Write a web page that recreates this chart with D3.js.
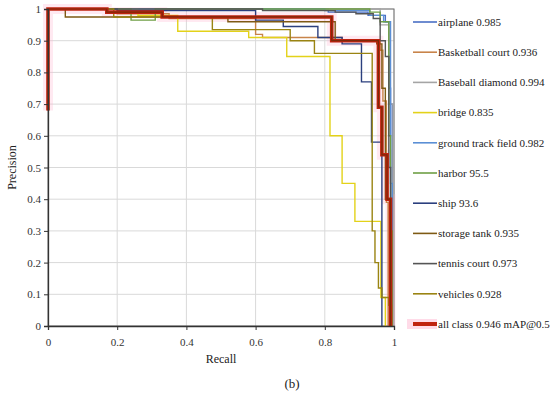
<!DOCTYPE html>
<html>
<head>
<meta charset="utf-8">
<script src="https://cdn.jsdelivr.net/npm/d3@7"></script>
<style>
  body { margin: 0; background: #fff; }
</style>
</head>
<body>
<div id="chart"></div>
<script>
// [recall, precision] step points per class
const airplane = [[0, 1], [0.81, 0.99], [0.925, 0.98], [0.975, 0.96], [0.985, 0.75], [0.99, 0.7], [0.995, 0]];
const basketballCourt = [[0, 1], [0.2, 0.985], [0.35, 0.97], [0.6, 0.92], [0.62, 0.91], [0.85, 0.9], [0.96, 0.87], [0.968, 0.71], [0.978, 0.39], [0.983, 0]];
const baseballDiamond = [[0, 1], [0.96, 0.95], [0.985, 0.7], [0.997, 0]];
const bridge = [[0, 1], [0.26, 0.98], [0.375, 0.93], [0.58, 0.91], [0.69, 0.85], [0.815, 0.6], [0.85, 0.45], [0.887, 0.33], [0.962, 0.09], [0.975, 0]];
const groundTrackField = [[0, 1], [0.8, 0.995], [0.93, 0.98], [0.97, 0.96], [0.99, 0.45], [0.995, 0]];
const harbor = [[0, 1], [0.24, 0.965], [0.31, 1], [0.93, 0.99], [0.96, 0.96], [0.985, 0.6], [0.99, 0.3], [0.995, 0]];
const ship = [[0, 1], [0.2, 0.995], [0.6, 0.965], [0.68, 0.945], [0.78, 0.91], [0.85, 0.89], [0.906, 0.77], [0.935, 0.58], [0.965, 0]];
const storageTank = [[0, 1], [0.05, 0.975], [0.52, 0.96], [0.83, 0.9], [0.95, 0.89], [0.965, 0.75], [0.975, 0.4], [0.99, 0]];
const tennisCourt = [[0, 1], [0.62, 0.995], [0.83, 0.99], [0.89, 0.985], [0.94, 0.97], [0.96, 0.9], [0.975, 0.85], [0.985, 0.5], [0.99, 0]];
const vehicles = [[0, 1], [0.19, 0.975], [0.475, 0.935], [0.7, 0.9], [0.77, 0.86], [0.937, 0.3], [0.945, 0.2], [0.955, 0.12], [0.965, 0.09], [0.985, 0.065], [0.993, 0]];
const allClass = [[0, 0.68], [0, 1], [0.17, 0.99], [0.33, 0.975], [0.82, 0.9], [0.955, 0.69], [0.965, 0.54], [0.98, 0.4], [0.99, 0]];

const labels = ['airplane 0.985', 'Basketball court 0.936', 'Baseball diamond 0.994', 'bridge 0.835',
    'ground track field 0.982', 'harbor 95.5', 'ship 93.6', 'storage tank 0.935',
    'tennis court 0.973', 'vehicles 0.928', 'all class 0.946 mAP@0.5'];
const colors = ['#4a6fc4', '#c8844a', '#a5a5a5', '#e3d21a', '#5b8fd5', '#6f9f45',
    '#2b3f7e', '#7e5a14', '#555555', '#9a8412', '#c0230f'];
const series = [airplane, basketballCourt, baseballDiamond, bridge, groundTrackField, harbor,
    ship, storageTank, tennisCourt, vehicles, allClass];

const xTicks = [0, 0.2, 0.4, 0.6, 0.8, 1];
const yTicks = [0, 0.1, 0.2, 0.3, 0.4, 0.5, 0.6, 0.7, 0.8, 0.9, 1];

const FONT = '"Liberation Serif", "DejaVu Serif", serif';
const W = 550, H = 394;
const margin = { left: 48, top: 9, right: 156, bottom: 68 };
const width = W - margin.left - margin.right;
const height = H - margin.top - margin.bottom;

const svg = d3.select('#chart').append('svg')
    .attr('width', W)
    .attr('height', H)
    .style('font-family', FONT);

const g = svg.append('g')
    .attr('transform', `translate(${margin.left}, ${margin.top})`);

const x = d3.scaleLinear().domain([0, 1]).range([0, width]);
const y = d3.scaleLinear().domain([0, 1]).range([height, 0]);

// grid
g.append('g')
    .selectAll('line')
    .data(yTicks.slice(1))
    .enter().append('line')
    .attr('x1', 0).attr('x2', width)
    .attr('y1', (d) => y(d)).attr('y2', (d) => y(d))
    .attr('stroke', '#d9d9d9');
g.append('g')
    .selectAll('line')
    .data(xTicks.slice(1))
    .enter().append('line')
    .attr('y1', 0).attr('y2', height)
    .attr('x1', (d) => x(d)).attr('x2', (d) => x(d))
    .attr('stroke', '#d9d9d9');

// frame top/right
g.append('rect')
    .attr('width', width)
    .attr('height', height)
    .attr('fill', 'none')
    .attr('stroke', '#6e6e6e');

const line = d3.line()
    .x((d) => x(d[0]))
    .y((d) => y(d[1]))
    .curve(d3.curveStepAfter);

// pink halo around all class curve
g.append('path')
    .datum(allClass)
    .attr('d', line)
    .attr('fill', 'none')
    .attr('stroke', '#ffb6d2')
    .attr('stroke-opacity', 0.3)
    .attr('stroke-width', 10);

series.forEach((s, i) => {
    const last = i === series.length - 1;
    g.append('path')
        .datum(s)
        .attr('d', line)
        .attr('fill', 'none')
        .attr('stroke', colors[i])
        .attr('stroke-width', last ? 3.6 : 1.4);
});
g.append('path')
    .datum(allClass)
    .attr('d', line)
    .attr('fill', 'none')
    .attr('stroke', '#7a2a0a')
    .attr('stroke-width', 1.2);

// axes
const xAxis = d3.axisBottom(x).tickValues(xTicks).tickFormat(d3.format('')).tickSize(4);
const yAxis = d3.axisLeft(y).tickValues(yTicks).tickFormat(d3.format('')).tickSize(4);

g.append('g')
    .attr('transform', `translate(0, ${height})`)
    .call(xAxis)
    .attr('font-family', FONT)
    .call((a) => a.select('.domain').attr('stroke', '#333').attr('stroke-width', 1.3))
    .call((a) => a.selectAll('line').attr('stroke', '#333'))
    .selectAll('text')
    .attr('dy', '1.2em')
    .attr('fill', '#333')
    .style('font-size', '11px');

g.append('g')
    .call(yAxis)
    .attr('font-family', FONT)
    .call((a) => a.select('.domain').attr('stroke', '#333').attr('stroke-width', 1.3))
    .call((a) => a.selectAll('line').attr('stroke', '#333'))
    .selectAll('text')
    .attr('x', -7)
    .attr('fill', '#333')
    .style('font-size', '11px');

svg.append('text')
    .attr('x', margin.left + width / 2)
    .attr('y', 363)
    .attr('text-anchor', 'middle')
    .attr('fill', '#222')
    .style('font-size', '12px')
    .text('Recall');

svg.append('text')
    .attr('transform', `translate(16, ${margin.top + height / 2}) rotate(-90)`)
    .attr('text-anchor', 'middle')
    .attr('fill', '#222')
    .style('font-size', '12px')
    .text('Precision');

svg.append('text')
    .attr('x', 292)
    .attr('y', 388)
    .attr('text-anchor', 'middle')
    .attr('fill', '#222')
    .style('font-size', '13px')
    .text('(b)');

// legend
const ly = (i) => 22 + i * 30.2;
const legend = svg.append('g');
legend.selectAll('rect')
    .data([labels.length - 1])
    .enter().append('rect')
    .attr('x', 407).attr('y', (d) => ly(d) - 5)
    .attr('width', 30).attr('height', 10)
    .attr('fill', '#ffdbe8');
legend.selectAll('line')
    .data(labels)
    .enter().append('line')
    .attr('x1', 413).attr('x2', 437)
    .attr('y1', (d, i) => ly(i)).attr('y2', (d, i) => ly(i))
    .attr('stroke', (d, i) => colors[i])
    .attr('stroke-width', (d, i) => (i === labels.length - 1 ? 4 : 1.6));
legend.selectAll('text')
    .data(labels)
    .enter().append('text')
    .attr('x', 438)
    .attr('y', (d, i) => ly(i))
    .attr('dy', '0.35em')
    .attr('fill', '#222')
    .style('font-size', '11px')
    .text((d) => d);
</script>
</body>
</html>
